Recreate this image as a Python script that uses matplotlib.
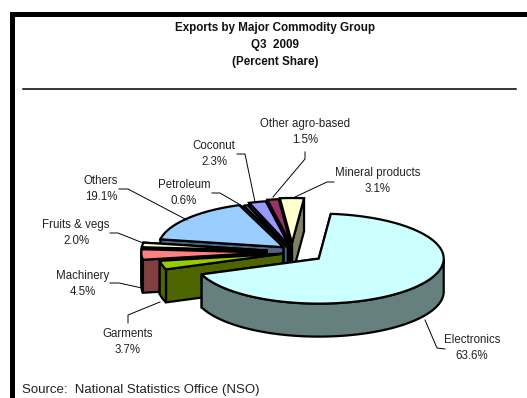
"""Exports by major commodity group, drawn as an exploded 3D-style pie."""
import numpy as np
import matplotlib
matplotlib.use("Agg")
import matplotlib.pyplot as plt

plt.rcParams["font.family"] = ["Liberation Sans", "DejaVu Sans"]

# clockwise from just right of 12 o'clock, top slice colour then wall colour
categories = ["Electronics", "Garments", "Machinery", "Fruits & vegs", "Others",
              "Petroleum", "Coconut", "Other agro-based", "Mineral products"]
shares = [63.6, 3.7, 4.5, 2.0, 19.1, 0.6, 2.3, 1.5, 3.1]
explode = [0.21, 0.14, 0.27, 0.27, 0.17, 0.10, 0.15, 0.18, 0.20]
nudge = [0, 0, 0, 0, 0, -8, -6, -6, -8]
top_colors = ["#CCFFFF", "#99CC00", "#FF8080", "#FFFFCC", "#99CCFF",
              "#6C8EB0", "#9999FF", "#993366", "#FFFFCC"]
side_colors = ["#668080", "#4D6600", "#804040", "#808066", "#4D6680",
               "#4D6680", "#4D4D80", "#4D1A33", "#808066"]

# text position of each label, same order as categories
label_pos = [(472, 340), (128, 334), (83, 276), (76, 225), (101, 181),
             (184, 185), (214, 146), (305, 124), (378, 173)]
leaders = [
    [(425, 320), (437, 348), (445, 349)],
    [(128, 323), (128, 315), (160, 302)],
    [(110, 283), (119, 283), (142, 288)],
    [(110, 233), (118, 233), (143, 243)],
    [(119, 189), (128, 189), (187, 220)],
    [(212, 193), (220, 193), (244, 207)],
    [(237, 154), (245, 154), (255, 202)],
    [(305, 152), (305, 159), (273, 197)],
    [(334, 182), (327, 182), (295, 197)],
]

CX, CY = 300, 252
RX, RY = 125, 45
DEPTH = 33
START = 5.5
LW = 1.6


def warp(t):
    # the tilted view stretches the near side of the pie
    return t + 20 * (1 - np.cos(np.radians(t))) / 2


def draw_poly(ax, pts, color):
    ax.fill(pts[:, 0], pts[:, 1], facecolor=color, edgecolor="black", linewidth=LW,
            joinstyle="miter")


def draw_slice(ax, t0, t1, e, dx, top, side):
    angles = warp(np.linspace(t0, t1, 90))
    mid = np.radians(warp((t0 + t1) / 2))
    tip = np.array([CX + dx + e * RX * np.sin(mid), CY - e * RY * np.cos(mid)])
    shift = np.array([0, DEPTH])
    r = np.radians(angles)
    arc = tip + np.column_stack([RX * np.sin(r), -RY * np.cos(r)])

    # radial walls, far one first
    for corner in (arc[-1], arc[0]):
        draw_poly(ax, np.array([tip, corner, corner + shift, tip + shift]), side)

    # rim wall only where it faces the viewer
    facing = arc[np.cos(r) < 0]
    if len(facing) > 1:
        draw_poly(ax, np.vstack([facing, (facing + shift)[::-1]]), side)

    draw_poly(ax, np.vstack([tip, arc]), top)


fig = plt.figure(figsize=(5.27, 3.98), dpi=100, facecolor="white")
ax = fig.add_axes([0, 0, 1, 1])
ax.set_xlim(0, 527)
ax.set_ylim(398, 0)
ax.axis("off")

# thick chart frame, running off the right and bottom edges
ax.plot([12, 12, 540], [410, 14, 14], color="black", linewidth=3.6, solid_joinstyle="miter")
ax.plot([22.5, 516], [89, 89], color="black", linewidth=1.1)

title_lines = ["Exports by Major Commodity Group", "Q3  2009", "(Percent Share)"]
for text, y in zip(title_lines, [28, 45, 62]):
    ax.text(275, y, text, ha="center", va="center", fontsize=8.4, fontweight="bold",
            color="#111111")

total = sum(shares)
edges = START + np.cumsum([0] + [s / total * 360 for s in shares])
spans = list(zip(edges[:-1], edges[1:]))

# back to front: mineral products round to garments, electronics last
for i in [8, 7, 6, 5, 4, 3, 2, 1, 0]:
    draw_slice(ax, spans[i][0], spans[i][1], explode[i], nudge[i], top_colors[i], side_colors[i])

for name, share, (x, y), line in zip(categories, shares, label_pos, leaders):
    ax.text(x, y, name, ha="center", va="center", fontsize=8.3, color="#222222")
    ax.text(x, y + 16, f"{share:.1f}%", ha="center", va="center", fontsize=8.3, color="#222222")
    pts = np.array(line)
    ax.plot(pts[:, 0], pts[:, 1], color="black", linewidth=0.7)

ax.text(22, 390.5, "Source:  National Statistics Office (NSO)", ha="left", va="center",
        fontsize=9.5, color="#222222")

fig.savefig("out.png", dpi=100, facecolor="white")
